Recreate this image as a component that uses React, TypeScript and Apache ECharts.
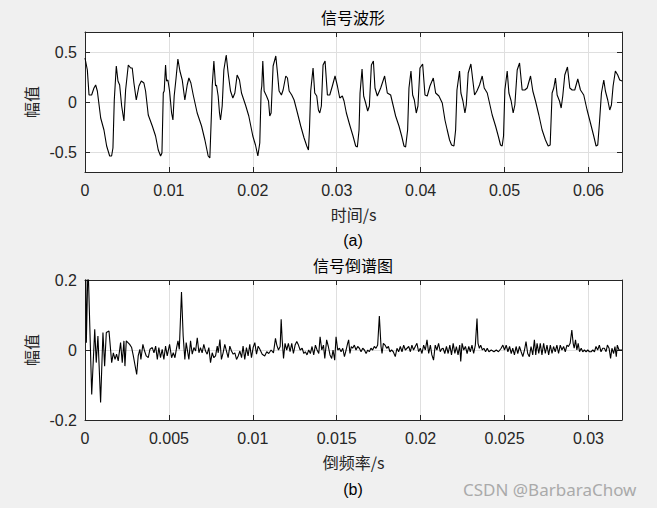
import React, { useEffect, useRef } from "react";
import * as echarts from "echarts";

// ---- tick values ----
const waveTicksX = [0, 0.01, 0.02, 0.03, 0.04, 0.05, 0.06];
const waveTicksY = [-0.5, 0, 0.5];
const cepTicksX = [0, 0.005, 0.01, 0.015, 0.02, 0.025, 0.03];
const cepTicksY = [-0.2, 0, 0.2];

// ---- signal waveform: [time (s), amplitude] ----
const waveform: [number, number][] = [
  [0, 0.44], [0.00028, 0.32], [0.00048, 0.07], [0.00079, 0.07], [0.00107, 0.14], [0.00127, 0.17],
  [0.00147, 0.11], [0.00187, -0.16], [0.00226, -0.28], [0.00258, -0.44], [0.00294, -0.54], [0.00317, -0.54],
  [0.00333, -0.46], [0.00349, 0.02], [0.00373, 0.36], [0.00393, 0.21], [0.00413, 0.17], [0.00437, -0.04],
  [0.00464, -0.19], [0.00484, 0.12], [0.00516, 0.37], [0.00544, 0.34], [0.00563, 0.34], [0.00583, 0.19],
  [0.00611, 0.02], [0.00643, 0.16], [0.00671, 0.21], [0.00702, 0.19], [0.00722, 0.11], [0.00754, -0.13],
  [0.00802, -0.24], [0.00841, -0.34], [0.00873, -0.48], [0.00901, -0.54], [0.00917, -0.51], [0.00933, 0.09],
  [0.00944, 0.11], [0.0096, 0.37], [0.00972, 0.21], [0.00988, 0.22], [0.01008, 0.11], [0.01032, -0.11],
  [0.01048, -0.18], [0.01063, 0.06], [0.01083, 0.22], [0.01107, 0.43], [0.01131, 0.31], [0.01159, 0.22],
  [0.0119, 0.02], [0.01218, 0.17], [0.01238, 0.24], [0.01262, 0.19], [0.0129, 0.07], [0.01337, -0.11],
  [0.01389, -0.24], [0.01429, -0.38], [0.01468, -0.54], [0.01488, -0.56], [0.01508, -0.09], [0.01516, 0.16],
  [0.01536, 0.41], [0.01556, 0.16], [0.01567, 0.17], [0.01587, 0.06], [0.01603, -0.11], [0.01615, -0.18],
  [0.01635, -0.04], [0.01655, 0.32], [0.01683, 0.47], [0.01706, 0.29], [0.01734, 0.11], [0.01762, 0.04],
  [0.01786, 0.09], [0.01813, 0.27], [0.01841, 0.22], [0.01865, 0.09], [0.01913, -0.03], [0.01952, -0.14],
  [0.02, -0.34], [0.02032, -0.43], [0.0206, -0.54], [0.02083, -0.41], [0.02099, 0.11], [0.02107, 0.16],
  [0.02119, 0.41], [0.02135, 0.11], [0.02163, 0.06], [0.02187, 0.01], [0.02202, -0.14], [0.02218, -0.11],
  [0.02242, 0.36], [0.02274, 0.46], [0.02294, 0.29], [0.02313, 0.11], [0.02341, 0.07], [0.02361, 0.12],
  [0.02393, 0.26], [0.02413, 0.24], [0.02433, 0.11], [0.02464, 0.07], [0.02492, 0.02], [0.02532, -0.11],
  [0.02571, -0.24], [0.02611, -0.36], [0.02643, -0.44], [0.02663, -0.48], [0.02675, -0.28], [0.0269, 0.11],
  [0.02718, 0.34], [0.02738, 0.09], [0.02762, 0.06], [0.02782, -0.08], [0.02798, -0.11], [0.02817, -0.04],
  [0.02837, 0.37], [0.02861, 0.41], [0.02889, 0.07], [0.02917, 0.07], [0.02948, 0.16], [0.0298, 0.26],
  [0.03008, 0.16], [0.03036, 0.04], [0.03067, 0.06], [0.03087, 0.01], [0.03115, -0.11], [0.03155, -0.23],
  [0.03194, -0.34], [0.03226, -0.44], [0.03246, -0.45], [0.03266, -0.28], [0.03278, 0.09], [0.03302, 0.33],
  [0.03321, 0.06], [0.03345, -0.01], [0.03369, -0.09], [0.03389, -0.04], [0.03413, 0.37], [0.03437, 0.41],
  [0.03456, 0.14], [0.03484, 0.06], [0.03524, 0.14], [0.03571, 0.26], [0.03603, 0.09], [0.03643, 0.07],
  [0.03671, -0.03], [0.03702, -0.14], [0.03742, -0.24], [0.03774, -0.34], [0.03802, -0.44], [0.03821, -0.45],
  [0.03845, -0.28], [0.03861, 0.14], [0.03885, 0.31], [0.03905, 0.07], [0.03925, 0.02], [0.03948, -0.11],
  [0.03968, -0.04], [0.03992, 0.34], [0.04024, 0.38], [0.04052, 0.07], [0.04079, 0.06], [0.04111, 0.16],
  [0.04151, 0.24], [0.04179, 0.09], [0.04218, 0.06], [0.04258, -0.01], [0.0429, -0.18], [0.04317, -0.28],
  [0.04345, -0.38], [0.04369, -0.43], [0.04397, -0.44], [0.04417, -0.28], [0.04433, 0.12], [0.04464, 0.31],
  [0.0448, 0.09], [0.04504, 0.01], [0.04528, -0.11], [0.04544, -0.03], [0.04567, 0.29], [0.04599, 0.38],
  [0.04623, 0.21], [0.04643, 0.07], [0.04671, 0.11], [0.04702, 0.17], [0.04734, 0.26], [0.04758, 0.14],
  [0.04794, 0.09], [0.04821, -0.01], [0.04853, -0.13], [0.04893, -0.24], [0.04925, -0.34], [0.04952, -0.43],
  [0.04972, -0.44], [0.04988, -0.34], [0.05004, 0.12], [0.05032, 0.31], [0.05052, 0.09], [0.05079, 0.01],
  [0.05103, -0.11], [0.05123, -0.03], [0.05151, 0.32], [0.05179, 0.39], [0.0521, 0.12], [0.05242, 0.12],
  [0.0527, 0.14], [0.0531, 0.26], [0.05337, 0.11], [0.05369, 0.01], [0.05409, -0.13], [0.05448, -0.28],
  [0.05488, -0.38], [0.0552, -0.44], [0.05544, -0.43], [0.05567, 0.09], [0.05587, 0.14], [0.05607, 0.24],
  [0.05627, 0.07], [0.05655, 0.01], [0.05675, -0.06], [0.05694, 0.06], [0.05718, 0.27], [0.0575, 0.35],
  [0.05778, 0.14], [0.05806, 0.12], [0.05837, 0.12], [0.05873, 0.23], [0.05905, 0.12], [0.05944, 0.07],
  [0.05984, -0.08], [0.06024, -0.21], [0.06063, -0.34], [0.06091, -0.44], [0.06111, -0.43], [0.06131, -0.21],
  [0.06155, 0.09], [0.06183, 0.22], [0.06202, 0.11], [0.0623, 0.02], [0.06254, -0.08], [0.06274, -0.03],
  [0.06294, 0.16], [0.06321, 0.31], [0.06349, 0.27], [0.06373, 0.22], [0.064, 0.21],
];

// ---- cepstrum: [quefrency (s), amplitude] ----
const cepstrum: [number, number][] = [
  [0, 0.5], [0.00008, 0.021], [0.00018, 0.25], [0.0004, -0.127], [0.00058, 0.059], [0.00067, -0.036],
  [0.00077, 0.04], [0.00093, -0.15], [0.00107, 0.05], [0.00117, -0.046], [0.00127, 0.05], [0.00143, 0.054],
  [0.00159, -0.036], [0.00169, -0.008], [0.00179, -0.027], [0.00188, -0.012], [0.00198, -0.031], [0.00212, 0.021],
  [0.00222, -0.036], [0.00232, 0.026], [0.00238, -0.046], [0.00246, 0.026], [0.00256, 0.021], [0.00266, 0.016],
  [0.00278, 0.007], [0.00288, -0.017], [0.00308, -0.07], [0.00317, -0.017], [0.00327, 0.002], [0.00333, -0.027],
  [0.00345, 0.016], [0.00355, -0.003], [0.00365, -0.017], [0.00377, -0.022], [0.00387, 0.002], [0.00401, 0.007],
  [0.00411, -0.008], [0.00421, 0.011], [0.00431, -0.027], [0.0044, 0.007], [0.0045, -0.022], [0.0046, 0.002],
  [0.0047, -0.027], [0.0048, 0.011], [0.0049, -0.017], [0.00504, 0.016], [0.00516, -0.022], [0.00526, -0.008],
  [0.00536, -0.022], [0.00546, 0.007], [0.00554, 0.026], [0.00562, 0.002], [0.00575, 0.166], [0.00585, 0.04],
  [0.00595, -0.027], [0.00603, 0.021], [0.00611, -0.003], [0.00619, -0.027], [0.00629, 0.026], [0.00639, -0.012],
  [0.00649, 0.007], [0.00659, -0.003], [0.00669, 0.035], [0.00679, -0.008], [0.00688, 0.007], [0.00698, -0.008],
  [0.00708, 0.016], [0.00718, -0.003], [0.00728, -0.012], [0.00738, 0.007], [0.00748, -0.036], [0.00758, -0.008],
  [0.00768, -0.022], [0.00778, -0.017], [0.00788, 0.011], [0.00794, -0.008], [0.00804, 0.03], [0.00813, -0.027],
  [0.00823, -0.008], [0.00833, 0.016], [0.00843, -0.003], [0.00853, -0.022], [0.00863, 0.011], [0.00873, -0.003],
  [0.00883, -0.012], [0.00893, -0.008], [0.00903, -0.027], [0.00913, -0.017], [0.00923, -0.003], [0.00933, -0.022],
  [0.00942, 0.011], [0.00952, -0.027], [0.00962, 0.007], [0.00972, -0.017], [0.00982, 0.016], [0.00992, -0.022],
  [0.01002, 0.007], [0.01012, 0.021], [0.01022, -0.012], [0.01032, 0.011], [0.01042, 0.002], [0.01056, -0.012],
  [0.01071, -0.017], [0.01083, -0.005], [0.01095, -0.01], [0.01109, 0], [0.01123, -0.008], [0.01135, 0.033],
  [0.01143, 0.014], [0.01153, 0], [0.01163, 0.01], [0.01169, 0.088], [0.01175, 0.029], [0.01183, -0.024],
  [0.01192, 0.019], [0.01202, 0], [0.01212, 0.019], [0.01222, -0.005], [0.01232, 0.019], [0.01242, -0.01],
  [0.01252, 0.014], [0.01262, 0.024], [0.01272, 0.014], [0.01282, 0], [0.01294, 0.005], [0.01304, -0.01],
  [0.01313, -0.005], [0.01323, -0.014], [0.01333, 0], [0.01343, -0.01], [0.01353, 0.01], [0.01363, -0.014],
  [0.01373, 0.014], [0.01383, 0], [0.01393, -0.01], [0.01401, 0.038], [0.01411, 0], [0.01421, 0.014],
  [0.01429, -0.024], [0.0144, 0.029], [0.0145, 0.01], [0.0146, -0.014], [0.0147, -0.024], [0.01478, 0],
  [0.01488, -0.029], [0.01496, 0.038], [0.01506, 0], [0.01516, 0.005], [0.01526, -0.005], [0.01536, 0.005],
  [0.01546, -0.019], [0.01556, 0], [0.01565, 0.019], [0.01571, 0.029], [0.01579, -0.01], [0.01587, 0.01],
  [0.01595, 0.005], [0.01605, 0.014], [0.01615, 0], [0.01625, 0.01], [0.01635, 0.005], [0.01645, -0.005],
  [0.01655, 0.005], [0.01665, 0], [0.01675, -0.01], [0.01685, 0], [0.01694, -0.005], [0.01704, 0.005],
  [0.01714, 0], [0.01724, 0.01], [0.01734, 0.005], [0.01744, 0.014], [0.01754, 0.097], [0.01764, 0.01],
  [0.0177, -0.01], [0.01778, 0.019], [0.01788, 0.014], [0.01798, 0.005], [0.01808, 0.01], [0.01817, -0.005],
  [0.01827, 0], [0.01837, -0.005], [0.01849, -0.019], [0.01859, 0.005], [0.01869, -0.005], [0.01879, 0.01],
  [0.01889, -0.005], [0.01899, 0.014], [0.01909, 0], [0.01919, 0.005], [0.01929, 0.01], [0.01939, -0.005],
  [0.01948, 0.014], [0.01958, 0], [0.01968, 0.01], [0.01978, 0.019], [0.01988, -0.005], [0.01998, 0.005],
  [0.02008, -0.01], [0.02018, 0.014], [0.02028, 0], [0.02038, 0.029], [0.02048, -0.01], [0.02058, 0.014],
  [0.02067, -0.014], [0.02077, -0.029], [0.02087, 0.014], [0.02097, 0], [0.02107, 0.019], [0.02117, -0.005],
  [0.02125, 0.003], [0.02134, 0.005], [0.02144, -0.01], [0.02154, 0.01], [0.02164, -0.01], [0.02174, 0.014],
  [0.02184, -0.014], [0.02194, 0.019], [0.02204, -0.01], [0.02213, 0.01], [0.02223, -0.014], [0.02233, 0.014],
  [0.02239, -0.033], [0.02247, 0.019], [0.02257, 0], [0.02267, 0.01], [0.02277, -0.01], [0.02287, 0.01],
  [0.02296, -0.005], [0.02306, 0.014], [0.02316, -0.01], [0.02326, 0.014], [0.02336, 0.09], [0.02342, 0.019],
  [0.0235, 0.005], [0.02358, 0.014], [0.02368, 0], [0.02377, 0.005], [0.02387, -0.005], [0.02397, 0.005],
  [0.02407, -0.005], [0.02421, 0], [0.02437, -0.005], [0.02451, 0], [0.02464, -0.005], [0.0248, 0.005],
  [0.0249, 0.014], [0.025, 0], [0.0251, 0.014], [0.0252, -0.005], [0.0253, 0.01], [0.0254, -0.01],
  [0.02549, 0.005], [0.02559, -0.014], [0.02569, 0.01], [0.02579, -0.01], [0.02589, 0.01], [0.02599, -0.005],
  [0.02609, -0.019], [0.02619, 0], [0.02628, 0.024], [0.02638, -0.01], [0.02648, -0.019], [0.02658, 0.01],
  [0.02668, -0.014], [0.02678, 0.029], [0.02686, -0.014], [0.02694, 0.019], [0.02704, -0.01], [0.02713, 0.019],
  [0.02723, -0.014], [0.02733, 0.019], [0.02743, -0.01], [0.02753, 0.014], [0.02763, -0.014], [0.02773, 0.014],
  [0.02783, -0.01], [0.02792, 0.01], [0.02802, -0.005], [0.02812, 0.014], [0.02822, -0.01], [0.02832, 0.014],
  [0.02842, 0], [0.02852, 0.01], [0.02862, -0.005], [0.02872, 0.014], [0.02881, 0.01], [0.02891, 0.019],
  [0.02901, 0.057], [0.02909, 0.019], [0.02915, 0.005], [0.02923, 0.029], [0.02931, 0], [0.02939, 0.019],
  [0.02947, -0.005], [0.02957, 0.005], [0.02966, -0.005], [0.02976, 0], [0.02986, -0.005], [0.02996, 0],
  [0.03006, -0.005], [0.03016, -0.005], [0.03026, 0], [0.03036, -0.005], [0.03045, 0.01], [0.03055, 0],
  [0.03065, 0.014], [0.03075, -0.005], [0.03085, 0.005], [0.03095, 0.005], [0.03105, -0.005], [0.03113, 0.014],
  [0.03123, 0.005], [0.03132, -0.024], [0.0314, 0.005], [0.0315, -0.01], [0.03158, 0.01], [0.03166, -0.019],
  [0.03172, 0.014], [0.03182, 0], [0.032, 0],
];

const FONT = '"Liberation Sans", Arial, "Noto Sans CJK SC", sans-serif';
const CJK = '"Noto Sans CJK SC", "Liberation Sans", sans-serif';
const AXIS_COLOR = "#262626";
const GRID_COLOR = "#dfdfdf";

const fmt = (v: number) => String(Number(Number(v).toFixed(4)));

function xAxes(gridIndex: number, max: number, ticks: number[], name: string) {
  return [
    {
      type: "value",
      gridIndex,
      min: 0,
      max,
      position: "bottom",
      name,
      nameLocation: "middle",
      nameGap: 34,
      nameTextStyle: { fontFamily: CJK, fontSize: 16, color: AXIS_COLOR },
      axisLine: { show: true, onZero: false, lineStyle: { color: AXIS_COLOR, width: 1 } },
      axisTick: { show: true, inside: true, length: 5, customValues: ticks, lineStyle: { color: AXIS_COLOR } },
      axisLabel: { customValues: ticks, formatter: fmt, fontFamily: FONT, fontSize: 16, color: AXIS_COLOR, margin: 10 },
      splitLine: { show: true, lineStyle: { color: GRID_COLOR, width: 1 } },
    },
    {
      type: "value",
      gridIndex,
      min: 0,
      max,
      position: "top",
      axisLine: { show: true, onZero: false, lineStyle: { color: AXIS_COLOR, width: 1 } },
      axisTick: { show: true, inside: true, length: 5, customValues: ticks, lineStyle: { color: AXIS_COLOR } },
      axisLabel: { show: false },
      splitLine: { show: false },
    },
  ];
}

function yAxes(gridIndex: number, min: number, max: number, ticks: number[]) {
  return [
    {
      type: "value",
      gridIndex,
      min,
      max,
      position: "left",
      name: "幅值",
      nameLocation: "middle",
      nameGap: 41,
      nameRotate: 90,
      nameTextStyle: { fontFamily: CJK, fontSize: 16, color: AXIS_COLOR },
      axisLine: { show: true, onZero: false, lineStyle: { color: AXIS_COLOR, width: 1 } },
      axisTick: { show: true, inside: true, length: 5, customValues: ticks, lineStyle: { color: AXIS_COLOR } },
      axisLabel: { customValues: ticks, formatter: fmt, fontFamily: FONT, fontSize: 16, color: AXIS_COLOR, margin: 8 },
      splitLine: { show: true, lineStyle: { color: GRID_COLOR, width: 1 } },
    },
    {
      type: "value",
      gridIndex,
      min,
      max,
      position: "right",
      axisLine: { show: true, onZero: false, lineStyle: { color: AXIS_COLOR, width: 1 } },
      axisTick: { show: true, inside: true, length: 5, customValues: ticks, lineStyle: { color: AXIS_COLOR } },
      axisLabel: { show: false },
      splitLine: { show: false },
    },
  ];
}

function centerText(text: string, x: number, y: number, font: string, size: number, color: string, align = "center") {
  return {
    type: "text",
    x,
    y,
    silent: true,
    style: { text, fontFamily: font, fontSize: size, fill: color, align, verticalAlign: "middle" },
  };
}

export default function App() {
  const ref = useRef<HTMLDivElement>(null);

  useEffect(() => {
    if (!ref.current) return;
    const chart = echarts.init(ref.current, undefined, { renderer: "svg" });
    chart.setOption({
      animation: false,
      backgroundColor: "#f0f0f0",
      grid: [
        { left: 85, top: 32, width: 537, height: 140, show: true, backgroundColor: "#ffffff", borderColor: AXIS_COLOR, borderWidth: 0 },
        { left: 85, top: 280, width: 537, height: 140, show: true, backgroundColor: "#ffffff", borderColor: AXIS_COLOR, borderWidth: 0 },
      ],
      xAxis: [...xAxes(0, 0.064, waveTicksX, "时间/s"), ...xAxes(1, 0.032, cepTicksX, "倒频率/s")],
      yAxis: [...yAxes(0, -0.7, 0.7, waveTicksY), ...yAxes(1, -0.2, 0.2, cepTicksY)],
      series: [
        {
          type: "line",
          name: "信号波形",
          xAxisIndex: 0,
          yAxisIndex: 0,
          data: waveform,
          showSymbol: false,
          symbol: "none",
          clip: true,
          lineStyle: { color: "#000000", width: 1.1 },
        },
        {
          type: "line",
          name: "信号倒谱图",
          xAxisIndex: 2,
          yAxisIndex: 2,
          data: cepstrum,
          showSymbol: false,
          symbol: "none",
          clip: true,
          lineStyle: { color: "#000000", width: 1.1 },
        },
      ],
      graphic: [
        centerText("信号波形", 353, 17, CJK, 16, "#000000"),
        centerText("信号倒谱图", 353, 265, CJK, 16, "#000000"),
        centerText("(a)", 353, 240, FONT, 16, "#000000"),
        centerText("(b)", 353, 489, FONT, 16, "#000000"),
        centerText("CSDN @BarbaraChow", 463, 489, '"Noto Sans", sans-serif', 17, "#aaaaaa", "left"),
      ],
    });
    return () => chart.dispose();
  }, []);

  return (
    <div
      ref={ref}
      style={{ position: "absolute", left: 0, top: 0, width: 657, height: 508 }}
    />
  );
}
